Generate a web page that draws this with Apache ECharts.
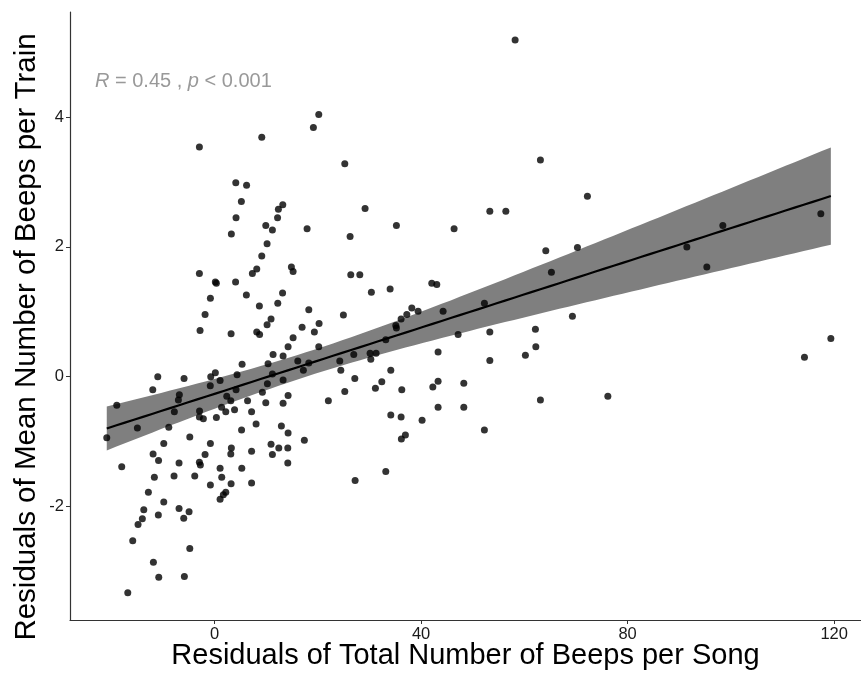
<!DOCTYPE html>
<html>
<head>
<meta charset="utf-8">
<script src="https://cdn.jsdelivr.net/npm/echarts@6/dist/echarts.min.js"></script>
<style>
  html, body { margin: 0; padding: 0; background: #fff; }
  #chart { width: 861px; height: 674px; }
</style>
</head>
<body>
<div id="chart"></div>
<script>
// Residuals of total beeps per song (x) vs residuals of mean beeps per train (y)
const residBeepsSong = [
  -2.94, 9.14, 19.14, 20.18, 25.22, 4.11, 6.20, 5.19, 13.21, 12.36,
  4.16, 12.20, 58.21, 29.15, 9.92, 11.20, 17.92, 3.25, 26.25, 10.17,
  9.14, 8.17, 7.32, 14.88, 15.21, 4.07, 26.38, 28.13, 6.16, 13.17,
  30.37, 34.00, -2.94, 0.15, 0.35, -0.81, -1.84, 8.68, -2.81, 3.20,
  8.17, 8.72, 5.33, -11.00, -5.91, -11.97, -0.74, 0.15, 1.07, 4.36,
  4.16, -6.82, -7.01, -0.83, 2.36, 3.14, 6.39, -18.94, -7.79, 1.36,
  2.17, 3.87, 7.17, -2.91, -2.94, -2.17, 0.35, -20.88, -14.95, -8.87,
  8.04, 5.23, -4.80, -9.84, -0.81, 3.25, 3.14, 7.17, -11.91, -1.84,
  -10.85, -6.88, -2.94, -2.75, -17.98, 1.07, 5.27, -11.66, -7.85, -3.84,
  1.39, -0.81, 3.20, 7.17, -12.82, 2.17, 1.70, 1.07, -9.84, -13.71,
  -6.88, -4.94, -10.89, -13.99, -5.97, -14.82, -15.85, -4.80, -11.85, -10.81,
  -5.85, -16.81, 12.24, 18.25, 24.95, 10.94, 10.17, 16.95, 20.24, 19.33,
  15.21, 14.24, 11.33, 13.27, 20.18, 10.36, 16.12, 18.25, 17.20, 24.25,
  24.45, 26.96, 30.12, 31.28, 30.26, 33.16, 11.20, 13.27, 10.23, 27.16,
  32.39, 31.15, 34.13, 9.26, 14.24, 25.22, 9.92, 13.27, 22.04, 12.94,
  14.24, 17.39, 10.94, 12.44, 14.18, 11.20, 14.18, 27.22, 33.16, 34.13,
  63.11, 72.21, 53.31, 56.41, 35.22, 46.39, 64.15, 70.28, 65.24, 42.07,
  43.04, 38.20, 37.23, 36.13, 39.42, 44.26, 52.26, 35.10, 35.22, 69.31,
  47.17, 53.31, 62.14, 62.22, 60.20, 43.29, 53.31, 36.26, 42.27, 43.29,
  48.27, 43.29, 48.27, 63.11, 76.17, 36.13, 40.19, 52.26, 36.96, 36.18,
  91.47, 98.44, 95.34, 117.42, 119.36, 114.25
];
const residBeepsTrain = [
  3.54, 3.69, 3.84, 4.04, 3.28, 2.99, 2.95, 2.70, 2.65, 2.58,
  2.45, 2.45, 5.19, 2.59, 2.33, 2.26, 2.28, 2.20, 2.16, 2.05,
  1.86, 1.66, 1.59, 1.69, 1.62, 1.46, 1.57, 1.57, 1.26, 1.29,
  1.30, 1.35, 1.59, 1.46, 1.44, 1.21, 0.96, 1.09, 0.71, 0.66,
  0.69, 0.65, 0.19, 0.00, -0.03, -0.20, 0.00, 0.06, -0.06, 0.03,
  -0.20, -0.28, -0.36, -0.14, -0.30, -0.37, -0.37, -0.44, -0.54, -0.47,
  -0.54, -0.51, -0.54, -0.53, -0.62, -0.65, -0.63, -0.94, -0.79, -0.78,
  -0.73, -0.82, -0.93, -1.03, -1.03, -1.10, -1.19, -1.15, -1.19, -1.20,
  -1.29, -1.33, -1.32, -1.36, -1.39, -1.41, -1.41, -1.55, -1.53, -1.53,
  -1.55, -1.67, -1.65, -1.64, -1.78, -1.78, -1.82, -1.89, -1.93, -2.05,
  -2.03, -2.08, -2.13, -2.19, -2.18, -2.28, -2.53, -2.65, -2.86, -3.09,
  -3.08, -3.33, 1.13, 1.03, 0.95, 0.89, 0.80, 0.76, 0.82, 0.69,
  0.60, 0.46, 0.34, 0.32, 0.46, 0.20, 0.24, 0.21, 0.10, 0.24,
  0.10, 0.34, 0.36, 0.36, 0.27, 0.57, 0.04, -0.05, -0.11, -0.03,
  -0.08, -0.18, 0.10, -0.24, -0.29, -0.23, -0.40, -0.41, -0.37, -0.76,
  -0.87, -0.98, -1.04, -1.10, -1.10, -1.20, -1.33, -1.60, -1.46, -0.59,
  3.34, 2.78, 2.55, 2.55, 2.33, 2.28, 1.94, 1.99, 1.61, 1.44,
  1.42, 1.06, 0.96, 0.89, 1.01, 1.01, 1.13, 0.79, 0.75, 0.93,
  0.65, 0.69, 0.73, 0.46, 0.33, 0.38, 0.25, -0.20, -0.16, -0.07,
  -0.10, -0.47, -0.47, -0.36, -0.30, -0.62, -0.67, -0.82, -0.90, -0.96,
  2.00, 2.33, 1.69, 2.51, 0.59, 0.30
];

const xTickValues = [0, 40, 80, 120];
const yTickValues = [-2, 0, 2, 4];
const xTitle = 'Residuals of Total Number of Beeps per Song';
const yTitle = 'Residuals of Mean Number of Beeps per Train';
const statLabel = { r: '0.45', p: '0.001' };

// Ordinary least squares fit with a 95% confidence band for the mean
const n = residBeepsSong.length;
const mx = residBeepsSong.reduce((a, b) => a + b, 0) / n;
const my = residBeepsTrain.reduce((a, b) => a + b, 0) / n;
let sxx = 0, sxy = 0;
for (let i = 0; i < n; i++) {
  sxx += (residBeepsSong[i] - mx) ** 2;
  sxy += (residBeepsSong[i] - mx) * (residBeepsTrain[i] - my);
}
const slope = sxy / sxx;
const intercept = my - slope * mx;
let sse = 0;
for (let i = 0; i < n; i++) {
  const e = residBeepsTrain[i] - (intercept + slope * residBeepsSong[i]);
  sse += e * e;
}
const sigma = Math.sqrt(sse / (n - 2));
const tCrit = 1.972;
const xMin = Math.min(...residBeepsSong);
const xMax = Math.max(...residBeepsSong);
const fitX = [], fitY = [], fitLo = [], fitHi = [];
const steps = 80;
for (let k = 0; k <= steps; k++) {
  const x = xMin + (xMax - xMin) * k / steps;
  const yhat = intercept + slope * x;
  const se = sigma * Math.sqrt(1 / n + (x - mx) ** 2 / sxx);
  fitX.push(x); fitY.push(yhat);
  fitLo.push(yhat - tCrit * se); fitHi.push(yhat + tCrit * se);
}

const points = residBeepsSong.map((x, i) => [x, residBeepsTrain[i]]);
const fitLine = fitX.map((x, i) => [x, fitY[i]]);

const chart = echarts.init(document.getElementById('chart'), null, { renderer: 'canvas' });
const axisFont = 'Liberation Sans, Arial, sans-serif';

chart.setOption({
  animation: false,
  backgroundColor: '#ffffff',
  grid: { left: 70, right: 0, top: 12, bottom: 54, containLabel: false, outerBoundsMode: 'none' },
  xAxis: {
    type: 'value',
    min: -28, max: 125.2,
    splitLine: { show: false },
    axisLine: { show: true, onZero: false, lineStyle: { color: '#333333', width: 1.2 } },
    axisTick: { show: true, length: 4, lineStyle: { color: '#333333' }, customValues: xTickValues },
    axisLabel: { customValues: xTickValues, color: '#1a1a1a', fontSize: 16.5, fontFamily: axisFont, margin: 6 },
    name: xTitle,
    nameLocation: 'middle', nameGap: 21, nameMoveOverlap: false,
    nameTextStyle: { fontSize: 29, color: '#000', fontFamily: axisFont }
  },
  yAxis: {
    type: 'value',
    min: -3.75, max: 5.62,
    splitLine: { show: false },
    axisLine: { show: true, onZero: false, lineStyle: { color: '#333333', width: 1.2 } },
    axisTick: { show: true, length: 4, lineStyle: { color: '#333333' }, customValues: yTickValues },
    axisLabel: { customValues: yTickValues, color: '#1a1a1a', fontSize: 16.5, fontFamily: axisFont, margin: 6 }
  },
  graphic: [
    {
      type: 'text',
      left: 95, top: 71,
      style: {
        text: '{i|R} = ' + statLabel.r + ' , {i|p} < ' + statLabel.p,
        fill: '#999999',
        font: '20px ' + axisFont,
        rich: {
          i: { fontStyle: 'italic', fontSize: 20, fill: '#999999', fontFamily: axisFont }
        }
      }
    },
    {
      type: 'text',
      x: 27, y: 337,
      rotation: Math.PI / 2,
      style: {
        text: yTitle,
        fill: '#000',
        font: '29.5px ' + axisFont,
        align: 'center',
        verticalAlign: 'middle'
      }
    }
  ],
  series: [
    {
      type: 'custom',
      z: 1,
      silent: true,
      data: [[xMin, 0]],
      renderItem: function (params, api) {
        const pts = [];
        for (let k = 0; k < fitX.length; k++) pts.push(api.coord([fitX[k], fitHi[k]]));
        for (let k = fitX.length - 1; k >= 0; k--) pts.push(api.coord([fitX[k], fitLo[k]]));
        return { type: 'polygon', shape: { points: pts }, style: { fill: '#7f7f7f' } };
      }
    },
    {
      type: 'line',
      z: 2,
      data: fitLine,
      showSymbol: false,
      symbol: 'none',
      lineStyle: { color: '#000000', width: 2.2 }
    },
    {
      type: 'scatter',
      z: 3,
      data: points,
      symbol: 'circle',
      symbolSize: 7,
      itemStyle: { color: '#000000' }
    }
  ]
});
</script>
</body>
</html>
